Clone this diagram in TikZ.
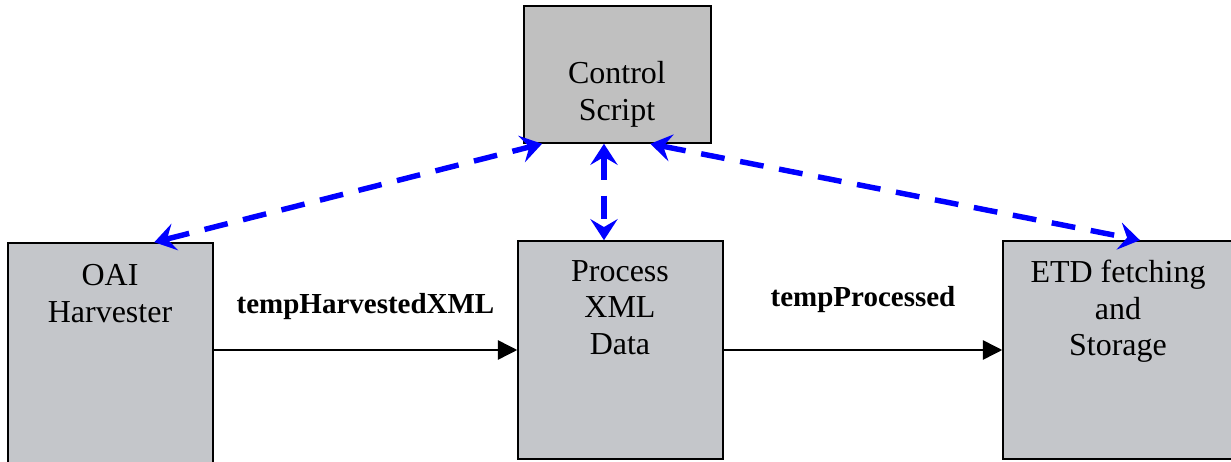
\documentclass[tikz,border=0pt]{standalone}
\usepackage{fontspec}
\setmainfont{Liberation Serif}
\usepackage{xcolor}
\usetikzlibrary{arrows.meta,calc,positioning}
\definecolor{ctrlgray}{HTML}{C0C0C0}
\definecolor{boxgray}{HTML}{C4C6CA}

\begin{document}
\begin{tikzpicture}[x=0.02cm, y=-0.02cm,
    box/.style={shape=rectangle, draw, line width=0.9pt, fill=boxgray, inner sep=0pt},
    txt/.style={anchor=north, align=center, inner sep=0pt, font=\fontsize{18.2}{20.8}\selectfont},
    lbl/.style={inner sep=0pt, font=\fontsize{16.5}{19}\selectfont\bfseries},
    flow/.style={line width=0.85pt, -{Triangle[length=11pt,width=11pt]}},
    ctl/.style={blue, line width=3.1pt, dash pattern=on 13.6pt off 9pt,
      {Stealth[length=12pt,width=15.5pt,inset=4.5pt]}-{Stealth[length=12pt,width=15.5pt,inset=4.5pt]}}]
    \useasboundingbox (0,0) rectangle (1231,462);
    \clip (0,0) rectangle (1231,462);

    \node[box, fill=ctrlgray, minimum width=3.74cm, minimum height=2.74cm] (ctrl) at (617.5,74.5) {};
    \node[box, minimum width=4.10cm, minimum height=4.74cm] (oai) at (110.5,361.5) {};
    \node[box, minimum width=4.10cm, minimum height=4.36cm] (proc) at (620.5,350) {};
    \node[box, minimum width=4.64cm, minimum height=4.36cm] (etd) at (1119,350) {};

    \node[txt] (ctrltxt) at (617,61) {Control\\Script};
    \node[txt] (oaitxt) at (110,264) {OAI\\Harvester};
    \node[txt] (proctxt) at (620,260) {Process\\XML\\Data};
    \node[txt] (etdtxt) at (1118,260) {ETD fetching\\and\\Storage};

    \draw[flow] (oai.east |- proc.west) -- node[lbl, above=0.6cm]{tempHarvestedXML} (proc.west);
    \draw[flow] (proc.east) -- node[lbl, above=0.74cm]{tempProcessed} (etd.west);

    \coordinate (pm) at ($(proc.north west)!0.42!(proc.north east)$);
    \draw[ctl] ($(oai.north west)!0.712!(oai.north east)$) -- ($(ctrl.south west)!0.10!(ctrl.south east)$);
    \draw[ctl] (pm |- ctrl.south) -- (pm);
    \draw[ctl] ($(ctrl.south west)!0.674!(ctrl.south east)$) -- ($(etd.north west)!0.59!(etd.north east)$);
  \end{tikzpicture}
\end{document}
